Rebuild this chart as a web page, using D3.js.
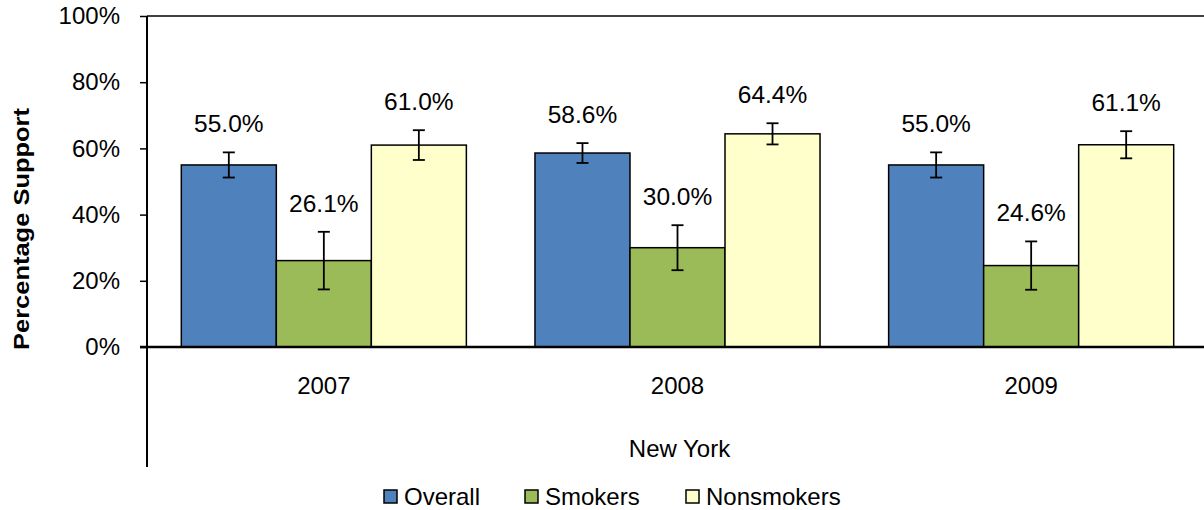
<!DOCTYPE html>
<html><head><meta charset="utf-8">
<script src="https://cdn.jsdelivr.net/npm/d3@7"></script>
<style>body{margin:0;background:#fff}svg{display:block}text{font-family:"Liberation Sans",Arial,sans-serif;fill:#000}</style>
</head><body><svg id="c" width="1204" height="510"></svg>
<script>
const categories = ["2007","2008","2009"];
const seriesNames = ["Overall","Smokers","Nonsmokers"];
const overall = [55.0, 58.6, 55.0];
const smokers = [26.1, 30.0, 24.6];
const nonsmokers = [61.0, 64.4, 61.1];
const overallErr = [3.8, 3.0, 3.8];
const smokersErr = [8.7, 6.8, 7.3];
const nonsmokersErr = [4.5, 3.2, 4.1];
const yTicks = [0,20,40,60,80,100];
const groupLabel = "New York";
const yTitle = "Percentage  Support";
const colors = ["#4F81BD","#9BBB59","#FFFFCC"];

const values = [overall, smokers, nonsmokers];
const errs = [overallErr, smokersErr, nonsmokersErr];

const svg = d3.select("#c");
const L = 147, R = 1208, T = 16, B = 347;
const y = d3.scaleLinear().domain([0,100]).range([B,T]);
const x0 = d3.scaleBand().domain(categories).range([L,R]).paddingInner(0.194).paddingOuter(0.097);
const x1 = d3.scaleBand().domain(seriesNames).range([0,x0.bandwidth()]);

svg.append("line").attr("x1",L).attr("x2",R).attr("y1",T).attr("y2",T).attr("stroke","#000").attr("stroke-width",1.5);

const yAxis = d3.axisLeft(y).tickValues(yTicks).tickSize(7).tickFormat(d=>d+"%");
const ga = svg.append("g").attr("transform",`translate(${L},0)`).call(yAxis);
ga.select(".domain").remove();
ga.selectAll(".tick line").attr("stroke","#000").attr("stroke-width",1.5);
ga.selectAll(".tick text").attr("x",-27).attr("font-size",24).attr("font-family","Liberation Sans, Arial").attr("fill","#000");

categories.forEach((c,ci)=>{
  seriesNames.forEach((s,si)=>{
    const v = values[si][ci], e = errs[si][ci];
    const bx = x0(c)+x1(s), bw = x1.bandwidth();
    svg.append("rect").attr("x",bx).attr("y",y(v)).attr("width",bw).attr("height",y(0)-y(v))
      .attr("fill",colors[si]).attr("stroke","#000").attr("stroke-width",1.5);
    const cx = bx+bw/2;
    const g = svg.append("g").attr("stroke","#000").attr("stroke-width",1.8);
    g.append("line").attr("x1",cx).attr("x2",cx).attr("y1",y(v+e)).attr("y2",y(v-e));
    g.append("line").attr("x1",cx-6).attr("x2",cx+6).attr("y1",y(v+e)).attr("y2",y(v+e));
    g.append("line").attr("x1",cx-6).attr("x2",cx+6).attr("y1",y(v-e)).attr("y2",y(v-e));
    svg.append("text").attr("x",cx).attr("y",y(v+e)-20).attr("text-anchor","middle")
      .attr("font-size",24.5).text(v.toFixed(1)+"%");
  });
  svg.append("text").attr("x",x0(c)+x0.bandwidth()/2).attr("y",394).attr("text-anchor","middle")
    .attr("font-size",24).text(c);
});

svg.append("line").attr("x1",L-7).attr("x2",R).attr("y1",B).attr("y2",B).attr("stroke","#000").attr("stroke-width",2.5);
svg.append("line").attr("x1",L).attr("x2",L).attr("y1",T).attr("y2",467).attr("stroke","#000").attr("stroke-width",2);

svg.append("text").attr("x",(L+R)/2+2).attr("y",457).attr("text-anchor","middle").attr("font-size",24).text(groupLabel);

svg.append("text").attr("transform","translate(29,229) rotate(-90)").attr("text-anchor","middle")
  .attr("font-size",22).attr("font-weight","bold").attr("textLength",242).attr("lengthAdjust","spacingAndGlyphs").text(yTitle);

const legX = [384, 525, 686];
seriesNames.forEach((s,i)=>{
  svg.append("rect").attr("x",legX[i]).attr("y",490).attr("width",13).attr("height",13)
    .attr("fill",colors[i]).attr("stroke","#000").attr("stroke-width",1.5);
  svg.append("text").attr("x",legX[i]+20).attr("y",505).attr("font-size",24).text(s);
});
</script></body></html>
